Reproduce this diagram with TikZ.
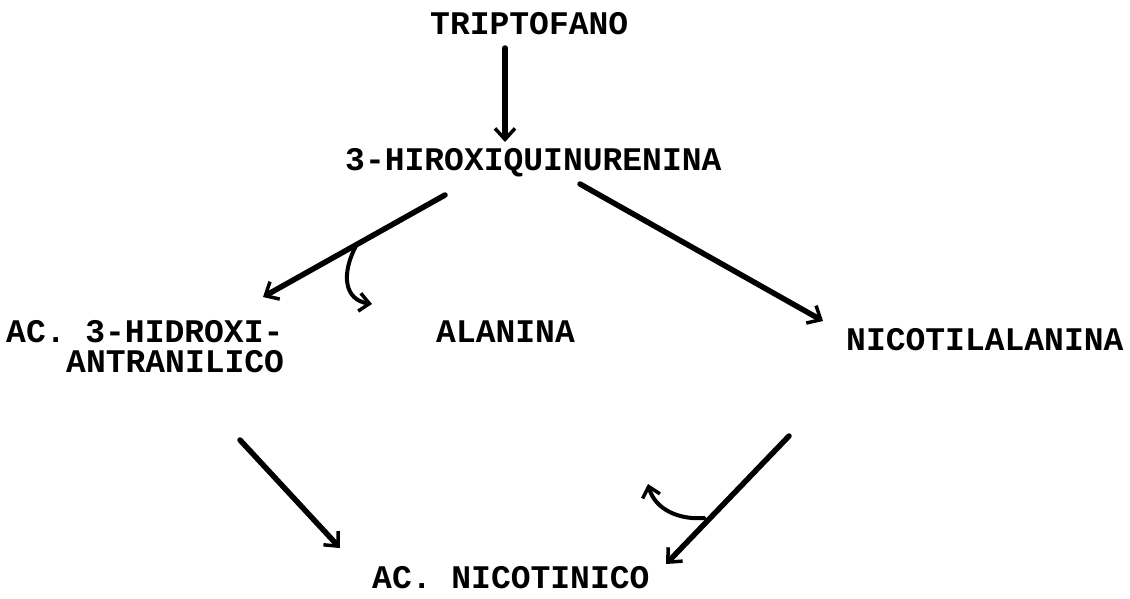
\documentclass[tikz,border=0pt]{standalone}
\usepackage{fontspec}
\setmainfont{Liberation Mono}
\usetikzlibrary{arrows.meta}
\tikzset{
  lbl/.style={inner sep=0pt, anchor=base west, font=\fontsize{33}{36}\selectfont\bfseries},
  rxn/.style={line width=5.5pt, line cap=round, -{Straight Barb[length=11pt,width=20pt,line width=3.5pt]}},
  side/.style={line width=4pt, line cap=round, -{Straight Barb[length=10pt,width=18pt,line width=3.5pt]}}
}
\begin{document}
\begin{tikzpicture}[x=1pt,y=-1pt]
\useasboundingbox (0,0) rectangle (1130,598);
\node[lbl] (trp) at (430,34) {TRIPTOFANO};
\node[lbl] (hqk) at (345,170) {3-HIROXIQUINURENINA};
\node[lbl] (aha1) at (6,342) {AC. 3-HIDROXI-};
\node[lbl] (aha2) at (66,372) {ANTRANILICO};
\node[lbl] (ala) at (436,342) {ALANINA};
\node[lbl] (nal) at (846,350) {NICOTILALANINA};
\node[lbl] (nic) at (372,588) {AC. NICOTINICO};
% connector end points
\coordinate (t1) at (505,48);
\coordinate (t2) at (505,142);
\coordinate (h1) at (445,195);
\coordinate (h2) at (263,297);
\coordinate (hb) at (357,244);
\coordinate (hb2) at (372,304);
\coordinate (n1) at (580,184);
\coordinate (n2) at (823,321);
\coordinate (a1) at (240,440);
\coordinate (a2) at (340,548);
\coordinate (c1) at (789,436);
\coordinate (c2) at (666,564);
\coordinate (cb) at (704,518);
\coordinate (cb2) at (648,484);
\draw[rxn] (t1) -- (t2);
\draw[rxn] (h1) -- (h2);
\draw[side] (hb) .. controls (340,275) and (345,300) .. (hb2);
\draw[rxn] (n1) -- (n2);
\draw[rxn] (a1) -- (a2);
\draw[rxn] (c1) -- (c2);
\draw[side] (cb) .. controls (680,520) and (655,510) .. (cb2);
\end{tikzpicture}
\end{document}
